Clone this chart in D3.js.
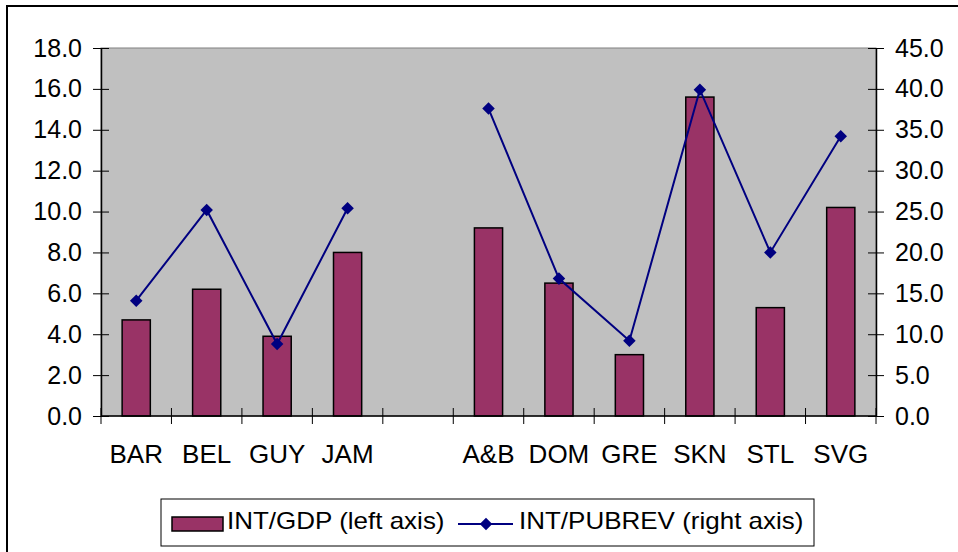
<!doctype html>
<html>
  <head>
    <script src="https://cdn.jsdelivr.net/npm/d3@7"></script>
    <style>
      body { margin: 0; background: #fff; }
      text { font-family: "Liberation Sans", Arial, sans-serif; fill: #000; }
    </style>
  </head>
  <body>
    <script>
    // data; the empty key is the gap between the two groups
    var categories = ["BAR", "BEL", "GUY", "JAM", "", "A&B", "DOM", "GRE", "SKN", "STL", "SVG"];
    var intGdp     = [4.7, 6.2, 3.9, 8.0, null, 9.2, 6.5, 3.0, 15.6, 5.3, 10.2];
    var intPubrev  = [14.1, 25.2, 8.8, 25.4, null, 37.6, 16.8, 9.2, 39.9, 20.0, 34.2];
    var leftTicks  = [0, 2, 4, 6, 8, 10, 12, 14, 16, 18];
    var rightTicks = [0, 5, 10, 15, 20, 25, 30, 35, 40, 45];

    var width = 958, height = 552;
    var plot = {left: 101, top: 48, right: 876, bottom: 416};

    var svg = d3.select("body").append("svg")
      .attr("width", width)
      .attr("height", height);

    // outer chart border (right and bottom edges fall off the picture)
    svg.append("rect")
      .attr("x", 7).attr("y", 6)
      .attr("width", 980).attr("height", 600)
      .attr("fill", "#fff")
      .attr("stroke", "#000")
      .attr("stroke-width", 2);

    var keys = categories.map(function(c, i) { return i; });

    var x = d3.scaleBand()
      .domain(keys)
      .range([plot.left, plot.right])
      .paddingInner(0).paddingOuter(0);

    var yL = d3.scaleLinear().domain([0, 18]).range([plot.bottom, plot.top]);
    var yR = d3.scaleLinear().domain([0, 45]).range([plot.bottom, plot.top]);

    // plot area
    svg.append("rect")
      .attr("x", plot.left).attr("y", plot.top)
      .attr("width", plot.right - plot.left)
      .attr("height", plot.bottom - plot.top)
      .attr("fill", "#c0c0c0")
      .attr("stroke", "#808080")
      .attr("stroke-width", 1);

    // bars
    var barW = x.bandwidth() * 0.4;
    svg.append("g").selectAll("rect")
      .data(keys.filter(function(i) { return intGdp[i] != null; }))
      .enter().append("rect")
        .attr("x", function(i) { return x(i) + (x.bandwidth() - barW) / 2; })
        .attr("y", function(i) { return yL(intGdp[i]); })
        .attr("width", barW)
        .attr("height", function(i) { return yL(0) - yL(intGdp[i]); })
        .attr("fill", "#993366")
        .attr("stroke", "#000")
        .attr("stroke-width", 1.5);

    // left axis
    var leftAxis = d3.axisLeft(yL)
      .tickValues(leftTicks)
      .tickSizeInner(8).tickSizeOuter(0)
      .tickFormat(d3.format(".1f"));
    var gl = svg.append("g")
      .attr("transform", "translate(" + plot.left + ",0)")
      .call(leftAxis);
    gl.select(".domain").attr("stroke", "#000").attr("stroke-width", 1.5);
    gl.selectAll(".tick line").attr("x2", -8).attr("x1", 8).attr("stroke", "#000");
    gl.selectAll(".tick text")
      .attr("x", -19)
      .attr("font-size", 25)
      .attr("font-family", "Liberation Sans, Arial, sans-serif")
      .attr("fill", "#000");

    // right axis
    var rightAxis = d3.axisRight(yR)
      .tickValues(rightTicks)
      .tickSizeInner(8).tickSizeOuter(0)
      .tickFormat(d3.format(".1f"));
    var gr = svg.append("g")
      .attr("transform", "translate(" + plot.right + ",0)")
      .call(rightAxis);
    gr.select(".domain").attr("stroke", "#000").attr("stroke-width", 1.5);
    gr.selectAll(".tick line").attr("x1", -8).attr("x2", 8).attr("stroke", "#000");
    gr.selectAll(".tick text")
      .attr("x", 19)
      .attr("font-size", 25)
      .attr("font-family", "Liberation Sans, Arial, sans-serif")
      .attr("fill", "#000");

    // category axis: line at zero, ticks on band edges, labels centred in bands
    var gx = svg.append("g");
    gx.append("line")
      .attr("x1", plot.left).attr("x2", plot.right)
      .attr("y1", yL(0)).attr("y2", yL(0))
      .attr("stroke", "#000").attr("stroke-width", 1.5);
    var edges = keys.map(function(i) { return x(i); }).concat([plot.right]);
    gx.selectAll("line.tk")
      .data(edges)
      .enter().append("line")
        .attr("class", "tk")
        .attr("x1", function(d) { return d; }).attr("x2", function(d) { return d; })
        .attr("y1", yL(0) - 8).attr("y2", yL(0) + 8)
        .attr("stroke", "#000");
    gx.selectAll("text")
      .data(keys)
      .enter().append("text")
        .attr("x", function(i) { return x(i) + x.bandwidth() / 2; })
        .attr("y", 463)
        .attr("text-anchor", "middle")
        .attr("font-size", 26)
        .text(function(i) { return categories[i]; });

    // line series (breaks at the empty slot)
    var line = d3.line()
      .defined(function(i) { return intPubrev[i] != null; })
      .x(function(i) { return x(i) + x.bandwidth() / 2; })
      .y(function(i) { return yR(intPubrev[i]); });

    svg.append("path")
      .datum(keys)
      .attr("d", line)
      .attr("fill", "none")
      .attr("stroke", "#000080")
      .attr("stroke-width", 2);

    var diamond = d3.symbol().type(d3.symbolDiamond2).size(100);
    svg.append("g").selectAll("path")
      .data(keys.filter(function(i) { return intPubrev[i] != null; }))
      .enter().append("path")
        .attr("d", diamond)
        .attr("transform", function(i) {
          return "translate(" + (x(i) + x.bandwidth() / 2) + "," + yR(intPubrev[i]) + ")";
        })
        .attr("fill", "#000080");

    // legend
    var lg = svg.append("g");
    lg.append("rect")
      .attr("x", 161).attr("y", 499)
      .attr("width", 653).attr("height", 47)
      .attr("fill", "#fff")
      .attr("stroke", "#000")
      .attr("stroke-width", 1);
    lg.append("rect")
      .attr("x", 172).attr("y", 517)
      .attr("width", 51).attr("height", 14)
      .attr("fill", "#993366")
      .attr("stroke", "#000")
      .attr("stroke-width", 1.5);
    lg.append("text")
      .attr("transform", "translate(227,529) scale(1,0.9)")
      .attr("font-size", 26)
      .text("INT/GDP (left axis)");
    lg.append("line")
      .attr("x1", 458).attr("x2", 513)
      .attr("y1", 524).attr("y2", 524)
      .attr("stroke", "#000080").attr("stroke-width", 2);
    lg.append("path")
      .attr("d", diamond)
      .attr("transform", "translate(486,524)")
      .attr("fill", "#000080");
    lg.append("text")
      .attr("transform", "translate(519,529) scale(1,0.9)")
      .attr("font-size", 26)
      .text("INT/PUBREV (right axis)");
    </script>
  </body>
</html>
